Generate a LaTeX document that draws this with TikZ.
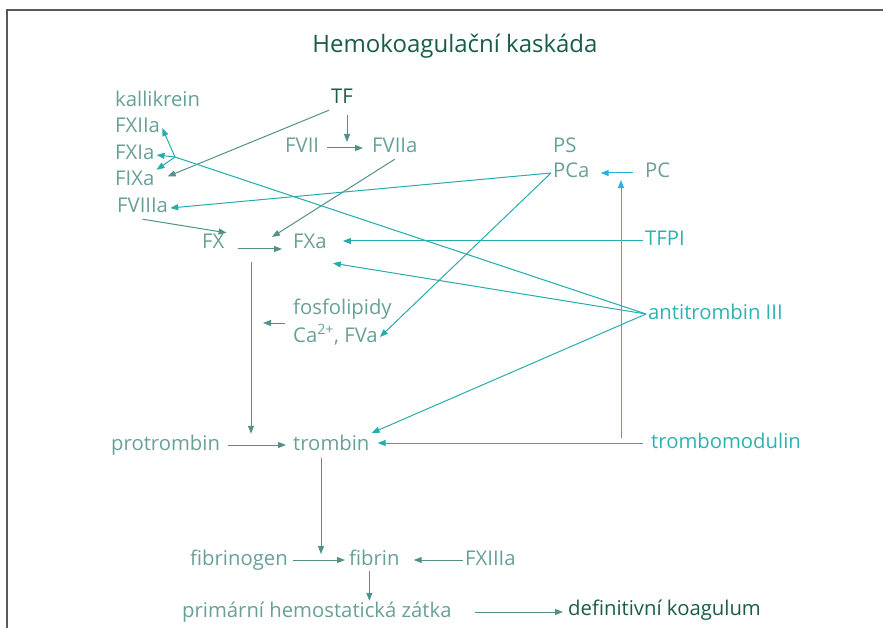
\documentclass[tikz,border=0pt]{standalone}
\usepackage{fontspec}
\setmainfont{Open Sans}
\usetikzlibrary{arrows.meta,calc}

\definecolor{lblgreen}{RGB}{104,160,152}
\definecolor{darkgreen}{RGB}{25,92,74}
\definecolor{inhteal}{RGB}{45,178,176}
\definecolor{arrgreen}{RGB}{82,145,136}
\definecolor{arrteal}{RGB}{38,172,172}
\definecolor{arrblue}{RGB}{38,178,228}

\begin{document}
\begin{tikzpicture}[x=1pt, y=-1pt,
    lbl/.style = {anchor=base west, inner sep=2pt, text height=14pt, text depth=4pt,
                  font=\fontsize{20.3}{24}\selectfont, text=lblgreen},
    dark/.style = {lbl, text=darkgreen},
    inh/.style = {lbl, text=inhteal},
    act/.style = {draw=arrgreen, line width=1pt, -{Triangle[length=8pt,width=6pt]}},
    blk/.style = {act, draw=arrteal},
    pcline/.style = {act, draw=arrblue}]

    \useasboundingbox (0,0) rectangle (883,628);
    \draw[black!65, line width=1.6pt] (883,10) -- (7,10) -- (7,628);

    \node[dark, anchor=base, font=\fontsize{24}{28}\selectfont] (title) at (455,53) {Hemokoagulační kaskáda};

    % left column
    \node[lbl] (kal) at (113,107) {kallikrein};
    \node[lbl] (fxiia) at (113,133) {FXIIa};
    \node[lbl] (fxia) at (113,160) {FXIa};
    \node[lbl] (fixa) at (113,186) {FIXa};
    \node[lbl] (fviiia) at (115,213) {FVIIIa};

    \node[dark] (tf) at (329,104) {TF};
    \node[lbl] (fvii) at (283,153) {FVII};
    \node[lbl] (fviia) at (370,153) {FVIIa};
    \node[lbl] (fx) at (200,249) {FX};
    \node[lbl] (fxa) at (291,249) {FXa};
    \node[lbl] (fos) at (291,314) {fosfolipidy};
    \node[lbl] (cofa) at (291,342) {Ca\textsuperscript{2+}, FVa};

    % inhibitors
    \node[lbl] (ps) at (551,153) {PS};
    \node[lbl] (pca) at (551,178) {PCa};
    \node[lbl] (pc) at (643,178) {PC};
    \node[inh] (tfpi) at (643,246) {TFPI};
    \node[inh] (at) at (646,319) {antitrombin III};
    \node[inh] (tm) at (649,448) {trombomodulin};

    \node[lbl] (prot) at (109,450) {protrombin};
    \node[lbl] (tromb) at (291,450) {trombin};
    \node[lbl] (fbg) at (188,565) {fibrinogen};
    \node[lbl] (fib) at (347,565) {fibrin};
    \node[lbl] (fxiiia) at (463,565) {FXIIIa};
    \node[lbl] (zatka) at (180,617) {primární hemostatická zátka};
    \node[dark] (koag) at (566,615) {definitivní koagulum};

    \coordinate (viirea) at (347,142);
    \coordinate (junc) at (175,157);
    \coordinate (fxact) at (272,237);
    \coordinate (fxrea) at (251,252);
    \coordinate (cofx) at (263,323);
    \coordinate (fbrea) at (321,554);
    \coordinate (tmfoot) at (621,438);
    \coordinate (pcup) at (621,180);

    \draw[act, shorten <=5pt] (viirea |- tf.south) -- (viirea);
    \draw[act, shorten <=6pt, shorten >=7pt] (fvii.east) -- (fviia.west);
    \draw[act, shorten >=12pt] (tf.south west) -- (fixa.east);
    \draw[act] (fviiia.south) -- (fx.north east);
    \draw[act] (fviia.south) -- (fxact);
    \draw[act, shorten <=11pt, shorten >=9pt] (fx.base east) -- (fxa.base west);
    \draw[act, shorten <=6pt] ($(fos.west)!.5!(cofa.west)$) -- (cofx);
    \draw[act, shorten <=10pt] (fxrea) -- (fxrea |- tromb.north);
    \draw[act, shorten <=6pt, shorten >=5pt] (prot.east) -- (tromb.west);
    \draw[act, shorten <=2pt] (fbrea |- tromb.south) -- (fbrea);
    \draw[act, shorten <=3pt, shorten >=2pt] (fbg.east) -- (fib.west);
    \draw[act, shorten >=12pt] (fxiiia.west) -- (fib.east);
    \draw[act] ([xshift=-5pt]fib.south) -- ([xshift=-5pt]fib.south |- zatka.north);
    \draw[act, shorten <=21pt, shorten >=3pt] (zatka.east) -- (zatka.east -| koag.west);

    \draw[arrteal, line width=1pt] (at.west) -- (junc);
    \foreach \n/\a in {fxiia/east, fxia/east, fixa/north east}
        \draw[blk] (junc) -- (\n.\a);
    \draw[blk] (pca.west) -- (fviiia.east);
    \draw[blk] (pca.west) -- (cofa.east);
    \draw[blk, shorten >=14pt] (tfpi.west) -- (tfpi.west -| fxa.east);
    \draw[blk] (at.west) -- ([shift={(4pt,-8pt)}]fxa.south east);
    \draw[blk] (at.west) -- ([yshift=12pt]tromb.east);
    \draw[blk, shorten <=6pt, shorten >=6pt] (tm.west) -- (tm.west -| tromb.east);

    \draw[pcline, shorten <=10pt, shorten >=9pt] (pc.west) -- (pca.east);
    \draw[pcline] (tmfoot) -- (pcup);

\end{tikzpicture}
\end{document}
